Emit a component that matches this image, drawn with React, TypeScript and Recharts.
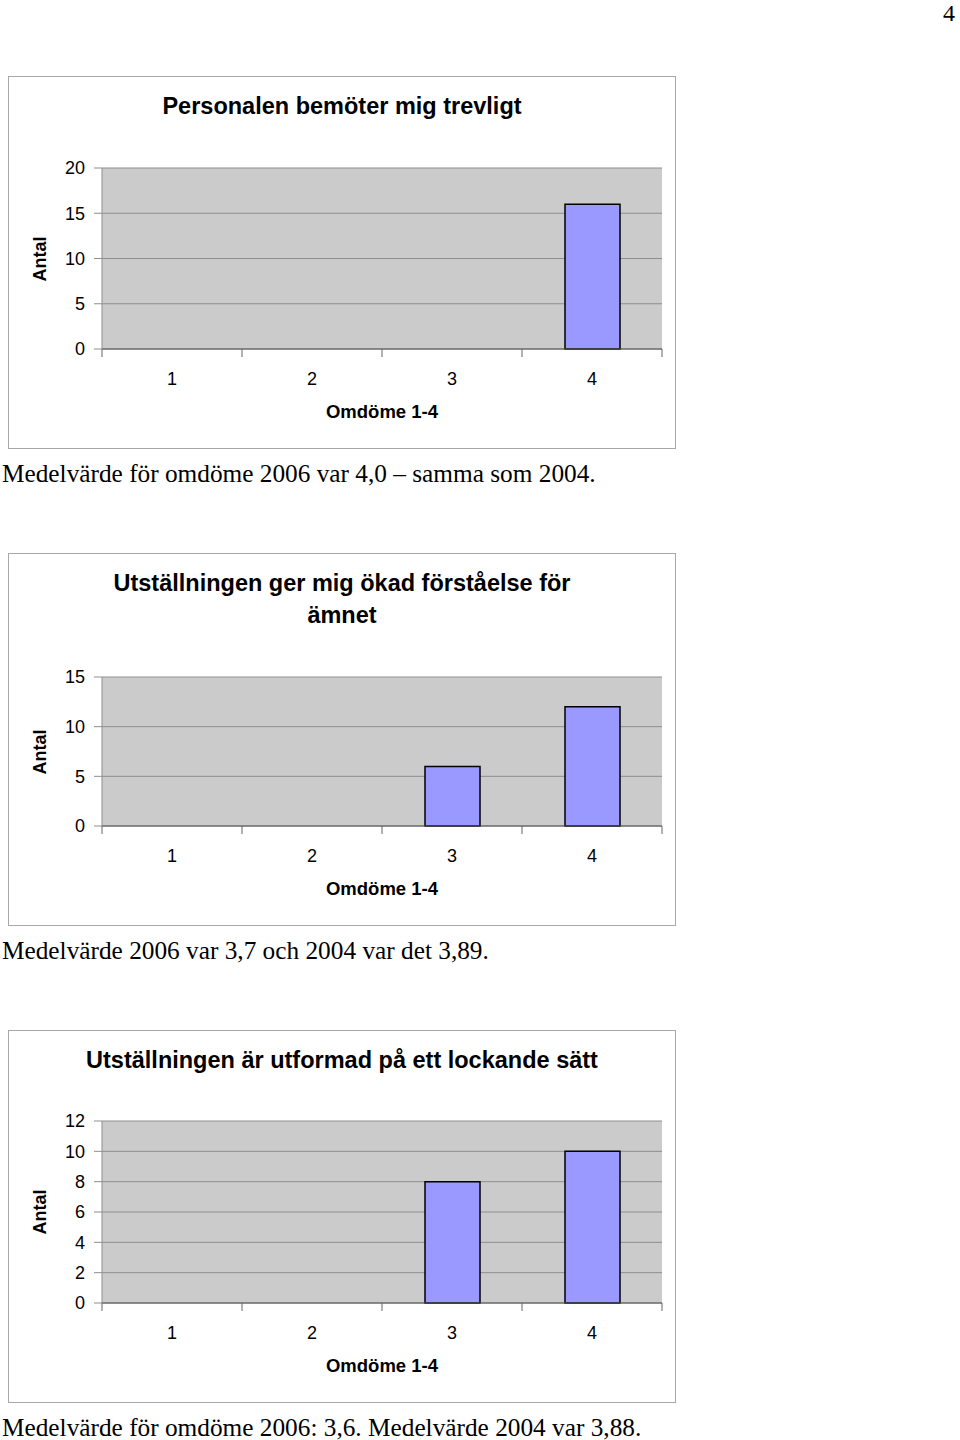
import { BarChart, Bar, XAxis, YAxis, CartesianGrid } from 'recharts'

const categories = ['1', '2', '3', '4']

const trevligtValues = [0, 0, 0, 16]
const trevligtTicks = [0, 5, 10, 15, 20]

const forstaelseValues = [0, 0, 6, 12]
const forstaelseTicks = [0, 5, 10, 15]

const lockandeValues = [0, 0, 8, 10]
const lockandeTicks = [0, 2, 4, 6, 8, 10, 12]

const SANS = 'Arial, "Liberation Sans", Helvetica, sans-serif'
const SERIF = '"Times New Roman", "Liberation Serif", serif'

const PLOT_WIDTH = 560
const BAND = PLOT_WIDTH / categories.length

function CategoryTick(props: any) {
  const { x, y, payload, index } = props
  const half = BAND / 2
  return (
    <g>
      <line x1={x - half} y1={y} x2={x - half} y2={y + 8} stroke="#666" />
      {index === categories.length - 1 && (
        <line x1={x + half} y1={y} x2={x + half} y2={y + 8} stroke="#666" />
      )}
      <text
        x={x}
        y={y + 30}
        textAnchor="middle"
        dominantBaseline="central"
        fontSize={18}
        fontFamily={SANS}
        fill="#000"
      >
        {payload.value}
      </text>
    </g>
  )
}

interface PanelProps {
  top: number
  titleLines: string[]
  values: number[]
  ticks: number[]
  plotTop: number
  caption: string
}

function Panel({ top, titleLines, values, ticks, plotTop, caption }: PanelProps) {
  const data = categories.map((c, i) => ({ omdome: c, antal: values[i] }))
  const max = ticks[ticks.length - 1]
  const plotBottom = 272

  return (
    <>
      <div
        style={{
          position: 'absolute',
          left: 8,
          top,
          width: 668,
          height: 373,
          boxSizing: 'border-box',
          border: '1px solid #a8a8a8',
          background: '#fff',
        }}
      >
        {titleLines.map((line, i) => (
          <div
            key={i}
            style={{
              position: 'absolute',
              left: 0,
              width: 666,
              top: 29 + i * 32 - 14,
              height: 28,
              lineHeight: '28px',
              textAlign: 'center',
              fontFamily: SANS,
              fontWeight: 'bold',
              fontSize: 23.5,
              whiteSpace: 'nowrap',
            }}
          >
            {line}
          </div>
        ))}
        <div
          style={{
            position: 'absolute',
            left: 31 - 40,
            top: (plotTop + plotBottom) / 2 - 11,
            width: 80,
            height: 22,
            lineHeight: '22px',
            textAlign: 'center',
            transform: 'rotate(-90deg)',
            fontFamily: SANS,
            fontWeight: 'bold',
            fontSize: 18,
          }}
        >
          Antal
        </div>
        <div
          style={{
            position: 'absolute',
            left: 93,
            width: PLOT_WIDTH,
            top: 335 - 11,
            height: 22,
            lineHeight: '22px',
            textAlign: 'center',
            fontFamily: SANS,
            fontWeight: 'bold',
            fontSize: 18.5,
          }}
        >
          Omdöme 1-4
        </div>
        <div style={{ position: 'absolute', left: 0, top: 0 }}>
          <BarChart
            width={666}
            height={371}
            data={data}
            margin={{ top: plotTop, right: 13, bottom: 371 - plotBottom - 80, left: 19 }}
          >
            <CartesianGrid vertical={false} stroke="#8f8f8f" fill="#cbcbcb" />
            <XAxis
              dataKey="omdome"
              height={80}
              axisLine={{ stroke: '#555' }}
              tickLine={false}
              tickSize={0}
              tickMargin={0}
              tick={<CategoryTick />}
              interval={0}
            />
            <YAxis
              width={74}
              domain={[0, max]}
              ticks={ticks}
              interval={0}
              axisLine={{ stroke: '#8f8f8f' }}
              tickLine={{ stroke: '#8f8f8f' }}
              tickSize={8}
              tickMargin={9}
              tick={{ fontSize: 18, fontFamily: SANS, fill: '#000' }}
            />
            <YAxis
              yAxisId="r"
              orientation="right"
              width={0}
              domain={[0, max]}
              tick={false}
              tickLine={false}
              axisLine={{ stroke: '#8f8f8f' }}
            />
            <Bar
              dataKey="antal"
              fill="#9999ff"
              stroke="#000"
              strokeWidth={1.5}
              barSize={55}
              isAnimationActive={false}
            />
          </BarChart>
        </div>
      </div>
      <div
        style={{
          position: 'absolute',
          left: 2,
          top: top + 373 + 11,
          height: 26,
          lineHeight: '26px',
          whiteSpace: 'nowrap',
          fontFamily: SERIF,
          fontSize: 25.3,
        }}
      >
        {caption}
      </div>
    </>
  )
}

export default function App() {
  return (
    <div
      style={{
        position: 'relative',
        width: 960,
        height: 1440,
        overflow: 'hidden',
        background: '#fff',
      }}
    >
      <style>{'html,body{margin:0;padding:0;overflow:hidden}'}</style>
      <div
        style={{
          position: 'absolute',
          left: 938,
          width: 22,
          top: 1,
          textAlign: 'center',
          fontFamily: SERIF,
          fontSize: 24,
          lineHeight: '24px',
        }}
      >
        4
      </div>
      <Panel
        top={76}
        titleLines={['Personalen bemöter mig trevligt']}
        values={trevligtValues}
        ticks={trevligtTicks}
        plotTop={91}
        caption="Medelvärde för omdöme 2006 var 4,0 – samma som 2004."
      />
      <Panel
        top={553}
        titleLines={['Utställningen ger mig ökad förståelse för', 'ämnet']}
        values={forstaelseValues}
        ticks={forstaelseTicks}
        plotTop={123}
        caption="Medelvärde 2006 var 3,7 och 2004 var det 3,89."
      />
      <Panel
        top={1030}
        titleLines={['Utställningen är utformad på ett lockande sätt']}
        values={lockandeValues}
        ticks={lockandeTicks}
        plotTop={90}
        caption="Medelvärde för omdöme 2006: 3,6. Medelvärde 2004 var 3,88."
      />
    </div>
  )
}
